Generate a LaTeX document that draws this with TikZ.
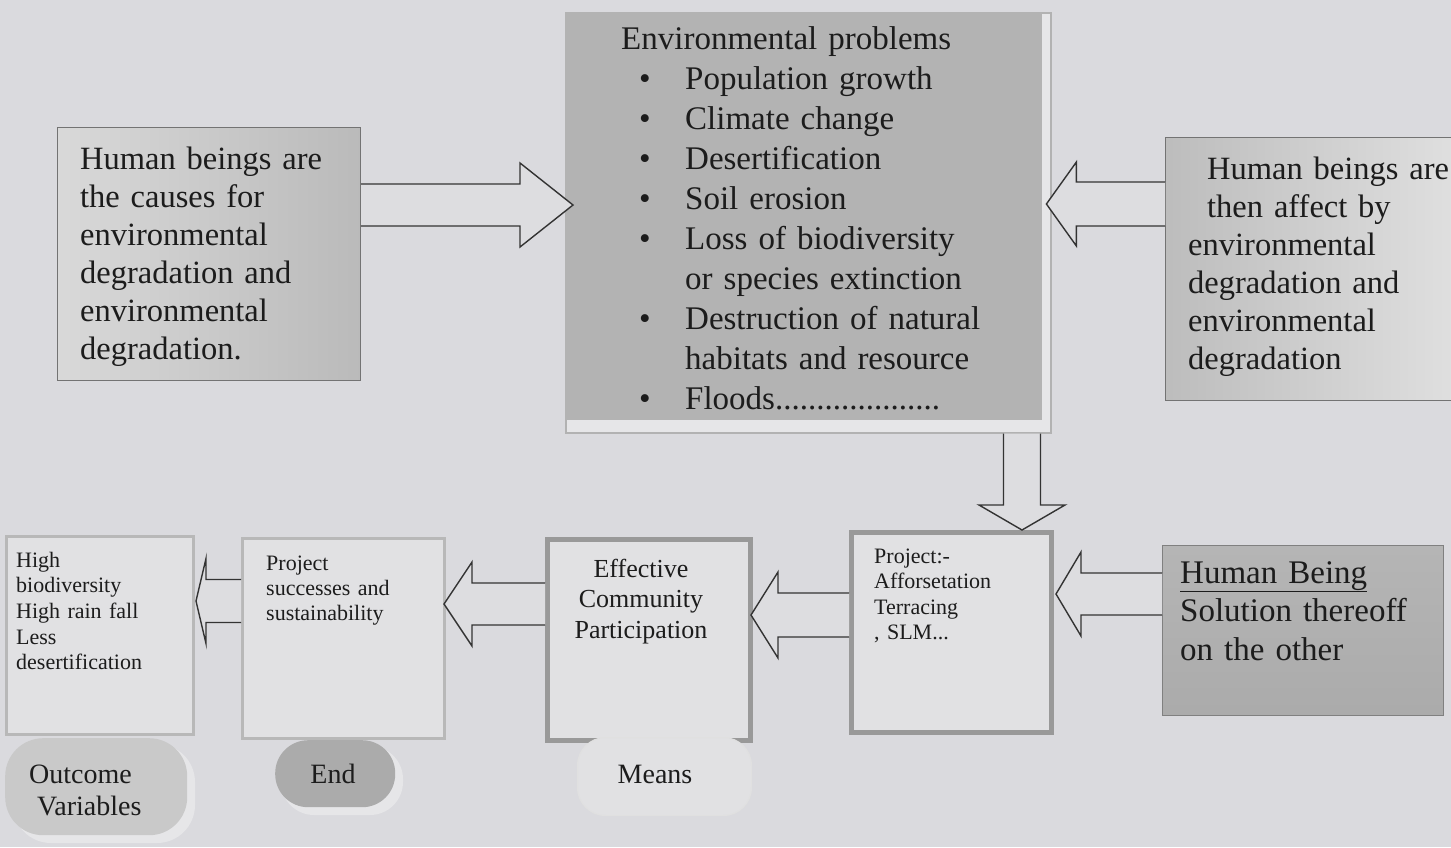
\documentclass[tikz,border=0pt]{standalone}
\usepackage{fontspec}
\setmainfont{Liberation Serif}
\usetikzlibrary{calc}
\definecolor{bg}{HTML}{DADADE}
\definecolor{ink}{HTML}{1C1C1C}
\definecolor{arrowfill}{HTML}{DDDDE0}
\definecolor{mainfill}{HTML}{B3B3B3}
\definecolor{halo}{HTML}{E6E6E8}
\definecolor{paler}{HTML}{E1E1E3}
\newcommand\fsz[2]{\fontsize{#1}{#2}\selectfont}
\newcommand\harrow[5]{%
 \filldraw[barrow] let \p1=(#1), \p2=(#2), \n1={#5} in
 (\x1,{\y1+#3}) -- ({\x2-\n1},{\y1+#3}) -- ({\x2-\n1},{\y1+#4}) -- (\x2,\y1) -- ({\x2-\n1},{\y1-#4}) -- ({\x2-\n1},{\y1-#3}) -- (\x1,{\y1-#3});}
\newcommand\varrow[5]{%
 \filldraw[barrow] let \p1=(#1), \p2=(#2), \n1={#5} in
 ({\x1+#3},\y1) -- ({\x1+#3},{\y2+\n1}) -- ({\x1+#4},{\y2+\n1}) -- (\x1,\y2) -- ({\x1-#4},{\y2+\n1}) -- ({\x1-#3},{\y2+\n1}) -- ({\x1-#3},\y1);}
\tikzset{
 barrow/.style={draw=black!80, fill=arrowfill, line width=1.4pt, line join=miter},
 boxbase/.style={rectangle, inner sep=0pt, anchor=north west},
 shadedbox/.style={boxbase, draw=black!55, line width=1pt},
 thickbox/.style={boxbase, draw=black!40, fill=paler, line width=5pt},
 thinbox/.style={boxbase, draw=black!28, fill=paler, line width=3pt},
 txt/.style={inner sep=0pt, anchor=base west, align=left, text=ink},
 ctxt/.style={inner sep=0pt, anchor=base, align=center, text=ink},
 pill/.style={rectangle, inner sep=0pt, anchor=north west},
}
\begin{document}
\begin{tikzpicture}[x=1pt,y=-1pt]
\clip (0,0) rectangle (1451,847);
\fill[bg] (0,0) rectangle (1451,847);

% main problems box
\node[boxbase, fill=halo, draw=black!30, line width=1.5pt, minimum width=485pt, minimum height=420pt] (mainframe) at (565,12) {};
\node[boxbase, fill=mainfill, minimum width=477pt, minimum height=408pt] (main) at (565,12) {};
\node[txt, text width=420pt, font=\fsz{33}{40}] (maintxt) at (621,49) {Environmental problems\\
\hspace*{18pt}\makebox[46pt][l]{\textbullet}Population growth\\
\hspace*{18pt}\makebox[46pt][l]{\textbullet}Climate change\\
\hspace*{18pt}\makebox[46pt][l]{\textbullet}Desertification\\
\hspace*{18pt}\makebox[46pt][l]{\textbullet}Soil erosion\\
\hspace*{18pt}\makebox[46pt][l]{\textbullet}Loss of biodiversity\\
\hspace*{64pt}or species extinction\\
\hspace*{18pt}\makebox[46pt][l]{\textbullet}Destruction of natural\\
\hspace*{64pt}habitats and resource\\
\hspace*{18pt}\makebox[46pt][l]{\textbullet}Floods....................};

% left cause box
\node[shadedbox, left color=black!15, right color=black!27, minimum width=303pt, minimum height=253pt] (cause) at (57,127) {};
\node[txt, text width=280pt, font=\fsz{32.5}{38}] (causetxt) at (80,169) {Human beings are\\the causes for\\environmental\\degradation and\\environmental\\degradation.};

% right affect box
\node[shadedbox, left color=black!26, right color=black!12, minimum width=300pt, minimum height=263pt] (affect) at (1165,137) {};
\node[txt, text width=280pt, font=\fsz{32.5}{38}] (affecttxt) at (1188,179) {\hspace*{19pt}Human beings are\\\hspace*{19pt}then affect by\\environmental\\degradation and\\environmental\\degradation};

% human being box
\node[shadedbox, top color=black!29, bottom color=black!33, draw=black!50, minimum width=281pt, minimum height=170pt] (hb) at (1162,545) {};
\node[txt, text width=260pt, font=\fsz{33}{38.5}] (hbtxt) at (1180,583) {\underline{Human Being}\\Solution thereoff\\on the other};

% project box
\node[thickbox, minimum width=200pt, minimum height=200pt] (project) at (849,530) {};
\node[txt, text width=170pt, font=\fsz{22}{25.5}] (projecttxt) at (874,563) {Project:-\\Afforsetation\\Terracing\\, SLM...};

% effective box
\node[thickbox, minimum width=203pt, minimum height=201pt] (effective) at (545,537) {};
\node[ctxt, text width=190pt, font=\fsz{26}{30.5}] (efftxt) at (641,577) {Effective\\Community\\Participation};

% project successes box
\node[thinbox, minimum width=202pt, minimum height=200pt] (projsucc) at (241,537) {};
\node[txt, text width=170pt, font=\fsz{22}{25}] (projsucctxt) at (266,570) {Project\\successes and\\sustainability};

% outcome box
\node[thinbox, minimum width=187pt, minimum height=198pt] (outcome) at (5,535) {};
\node[txt, text width=170pt, font=\fsz{22}{25.7}] (outcometxt) at (16,567) {High\\biodiversity\\High rain fall\\Less\\desertification};

% bottom labels
\fill[halo, rounded corners=38pt] (13,744) rectangle (195,843);
\node[pill, fill=black!21, rounded corners=38pt, minimum width=182pt, minimum height=97pt] (outlab) at (5,738) {};
\node[txt, text width=170pt, font=\fsz{28}{32}] (outlabtxt) at (29,783) {Outcome\\\hspace*{8pt}Variables};

\fill[halo, rounded corners=33pt] (281,746) rectangle (403,815);
\node[pill, fill=black!33, rounded corners=33pt, minimum width=120pt, minimum height=67pt] (endlab) at (275,740) {};
\node[ctxt, font=\fsz{28}{32}] (endtxt) at (333,783) {End};

\node[pill, fill=paler, draw=black!12, line width=1pt, rounded corners=28pt, minimum width=174pt, minimum height=78pt] (meanslab) at (577,737) {};
\node[ctxt, font=\fsz{28}{32}] (meanstxt) at (655,783) {Means};

% block arrows
\coordinate (a1s) at ($(cause.north east)+(0,78)$);
\coordinate (a1e) at ($(main.west|-a1s)+(8,0)$);
\harrow{a1s}{a1e}{21pt}{42pt}{53pt}

\coordinate (a2s) at ($(affect.north west)+(0,67)$);
\coordinate (a2e) at ($(main.east|-a2s)+(4,0)$);
\harrow{a2s}{a2e}{22pt}{42pt}{-30pt}

\coordinate (a3e) at ($(project.north east)+(-32,0)$);
\coordinate (a3s) at (a3e|-mainframe.south);
\varrow{a3s}{a3e}{18.5pt}{43pt}{25pt}

\coordinate (a4s) at ($(hb.north west)+(0,49)$);
\coordinate (a4e) at ($(project.east|-a4s)+(2,0)$);
\harrow{a4s}{a4e}{21pt}{42pt}{-25pt}

\coordinate (a5s) at ($(project.north west)+(0,85)$);
\coordinate (a5e) at ($(effective.east|-a5s)+(-2,0)$);
\harrow{a5s}{a5e}{22pt}{43pt}{-27pt}

\coordinate (a6s) at ($(effective.north west)+(0,67)$);
\coordinate (a6e) at ($(projsucc.east|-a6s)+(-2,0)$);
\harrow{a6s}{a6e}{21pt}{42pt}{-28pt}

\coordinate (a7s) at ($(projsucc.north west)+(0,64)$);
\coordinate (a7e) at ($(outcome.east|-a7s)+(1,0)$);
\harrow{a7s}{a7e}{21.5pt}{42.5pt}{-10pt}
\end{tikzpicture}
\end{document}
